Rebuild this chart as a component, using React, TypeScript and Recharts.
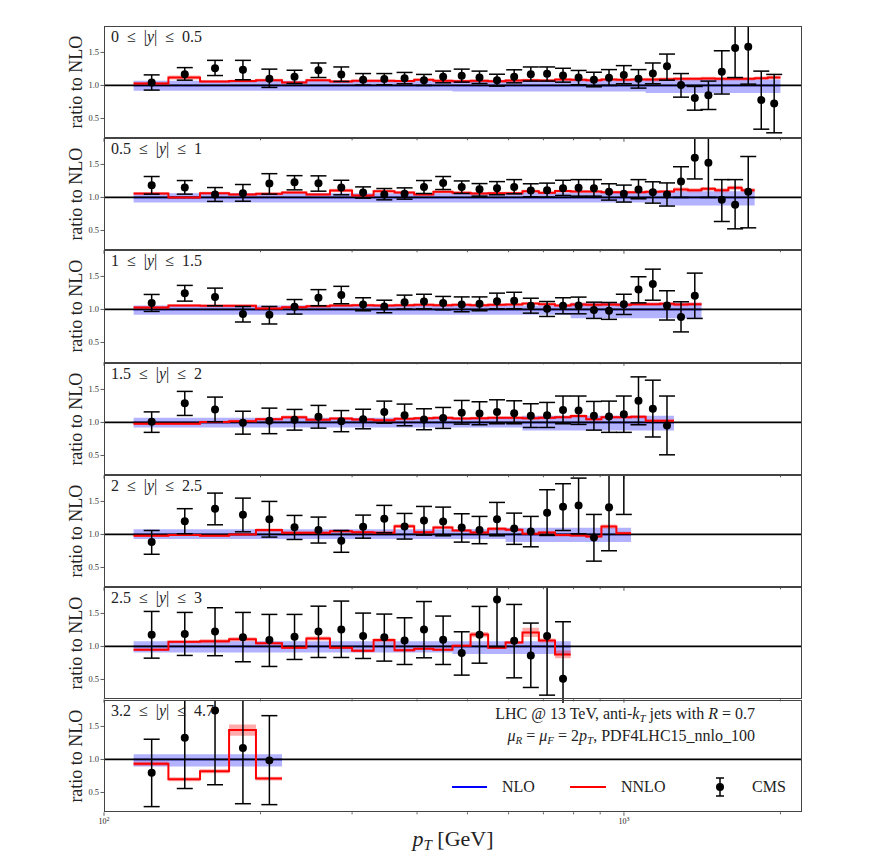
import { ComposedChart, Area, Line, Scatter, ErrorBar, XAxis, YAxis, ReferenceLine } from "recharts";

const FONT = "'Liberation Serif', 'Times New Roman', serif";
const TOP = 25.7;
const PH = 112.3;
const PLOT_L = 104;
const PLOT_R = 802;

// pT bin edges [GeV]
const edges = [114, 133, 153, 174, 196, 220, 245, 272, 300, 330, 362, 395, 430, 468, 507, 548, 592, 638, 686, 737, 790, 846, 905, 967, 1032, 1101, 1172, 1248, 1327, 1410, 1497, 1588, 1684, 1784, 1890, 2000];
const xTicks = [100, 200, 300, 400, 500, 600, 700, 800, 900, 1000, 2000];
const yTicks = [0.5, 1.0, 1.5];

const rapLower = ["0", "0.5", "1", "1.5", "2", "2.5", "3.2"];
const rapUpper = ["0.5", "1", "1.5", "2", "2.5", "3", "4.7"];

// 0 <= |y| <= 0.5
const cms1 = [1.045, 1.17, 1.26, 1.237, 1.10, 1.13, 1.23, 1.167, 1.086, 1.096, 1.11, 1.08, 1.13, 1.146, 1.12, 1.08, 1.13, 1.17, 1.177, 1.15, 1.12, 1.086, 1.116, 1.157, 1.10, 1.18, 1.29, 1.005, 0.81, 0.853, 1.207, 1.566, 1.586, 0.778, 0.727];
const cmsHi1 = [1.16, 1.27, 1.38, 1.38, 1.247, 1.23, 1.34, 1.28, 1.18, 1.18, 1.197, 1.167, 1.217, 1.247, 1.217, 1.17, 1.237, 1.28, 1.28, 1.26, 1.227, 1.2, 1.24, 1.3, 1.24, 1.34, 1.475, 1.18, 0.985, 1.066, 1.525, 2.3, 2.3, 1.217, 1.167];
const cmsLo1 = [0.93, 1.08, 1.15, 1.086, 0.97, 1.03, 1.12, 1.06, 1.005, 1.01, 1.025, 1.0, 1.04, 1.05, 1.03, 0.99, 1.04, 1.066, 1.066, 1.05, 1.01, 0.98, 1.0, 1.025, 0.96, 1.025, 1.08, 0.823, 0.626, 0.636, 0.87, 1.12, 1.02, 0.338, 0.283];
const nnlo1 = [1.03, 1.12, 1.06, 1.066, 1.08, 1.045, 1.08, 1.06, 1.07, 1.07, 1.066, 1.086, 1.07, 1.065, 1.07, 1.065, 1.075, 1.08, 1.075, 1.09, 1.085, 1.08, 1.09, 1.085, 1.09, 1.09, 1.095, 1.1, 1.1, 1.105, 1.1, 1.1, 1.1, 1.11, 1.12];
const nnloUnc1 = [0.02, 0.03, 0.02, 0.02, 0.02, 0.02, 0.02, 0.02, 0.02, 0.02, 0.02, 0.02, 0.02, 0.02, 0.02, 0.02, 0.02, 0.02, 0.02, 0.02, 0.02, 0.02, 0.02, 0.02, 0.02, 0.025, 0.025, 0.025, 0.025, 0.025, 0.025, 0.025, 0.025, 0.025, 0.025];
const nloLo1 = [0.92, 0.92, 0.92, 0.92, 0.92, 0.92, 0.92, 0.92, 0.92, 0.92, 0.92, 0.92, 0.92, 0.91, 0.91, 0.91, 0.91, 0.91, 0.91, 0.91, 0.91, 0.91, 0.91, 0.91, 0.91, 0.885, 0.885, 0.885, 0.885, 0.885, 0.885, 0.885, 0.885, 0.885, 0.885];
const nloHi1 = [1.07, 1.07, 1.07, 1.07, 1.07, 1.07, 1.07, 1.07, 1.07, 1.07, 1.07, 1.07, 1.07, 1.075, 1.075, 1.075, 1.075, 1.075, 1.075, 1.075, 1.075, 1.075, 1.075, 1.075, 1.075, 1.09, 1.09, 1.09, 1.09, 1.09, 1.09, 1.09, 1.09, 1.09, 1.09];

// 0.5 <= |y| <= 1
const cms2 = [1.186, 1.15, 1.044, 1.065, 1.21, 1.23, 1.216, 1.15, 1.075, 1.044, 1.055, 1.16, 1.22, 1.157, 1.126, 1.14, 1.157, 1.106, 1.11, 1.14, 1.146, 1.14, 1.086, 1.056, 1.12, 1.08, 1.045, 1.24, 1.6, 1.525, 0.965, 0.89, 1.086];
const cmsHi2 = [1.317, 1.256, 1.15, 1.196, 1.36, 1.33, 1.327, 1.26, 1.16, 1.135, 1.145, 1.256, 1.317, 1.25, 1.21, 1.24, 1.27, 1.207, 1.217, 1.26, 1.27, 1.27, 1.207, 1.187, 1.27, 1.237, 1.22, 1.465, 2.3, 2.3, 1.27, 1.27, 1.62];
const cmsLo2 = [1.05, 1.05, 0.94, 0.943, 1.05, 1.115, 1.095, 1.04, 0.99, 0.964, 0.974, 1.06, 1.12, 1.06, 1.02, 1.04, 1.055, 1.01, 1.005, 1.03, 1.02, 1.02, 0.96, 0.93, 0.98, 0.914, 0.87, 1.0, 1.28, 1.0, 0.636, 0.525, 0.54];
const nnlo2 = [1.06, 1.0, 1.065, 1.045, 1.055, 1.075, 1.045, 1.105, 1.03, 1.095, 1.075, 1.045, 1.085, 1.07, 1.06, 1.065, 1.065, 1.095, 1.07, 1.096, 1.09, 1.09, 1.08, 1.08, 1.08, 1.085, 1.09, 1.12, 1.11, 1.13, 1.11, 1.146, 1.11];
const nnloUnc2 = [0.02, 0.02, 0.02, 0.02, 0.02, 0.02, 0.02, 0.025, 0.02, 0.02, 0.02, 0.02, 0.02, 0.02, 0.02, 0.02, 0.02, 0.02, 0.02, 0.02, 0.02, 0.02, 0.02, 0.02, 0.02, 0.02, 0.02, 0.03, 0.03, 0.03, 0.03, 0.03, 0.03];
const nloLo2 = [0.922, 0.922, 0.922, 0.922, 0.922, 0.922, 0.922, 0.922, 0.922, 0.922, 0.922, 0.922, 0.922, 0.922, 0.922, 0.922, 0.922, 0.922, 0.922, 0.922, 0.922, 0.922, 0.922, 0.922, 0.922, 0.922, 0.88, 0.88, 0.88, 0.88, 0.88, 0.88, 0.88];
const nloHi2 = [1.065, 1.065, 1.065, 1.065, 1.065, 1.065, 1.065, 1.065, 1.065, 1.065, 1.065, 1.065, 1.065, 1.075, 1.075, 1.075, 1.075, 1.075, 1.075, 1.075, 1.075, 1.075, 1.075, 1.075, 1.075, 1.075, 1.095, 1.095, 1.095, 1.095, 1.095, 1.095, 1.095];

// 1 <= |y| <= 1.5
const cms3 = [1.096, 1.247, 1.19, 0.93, 0.92, 1.04, 1.177, 1.217, 1.076, 1.045, 1.11, 1.12, 1.096, 1.076, 1.086, 1.126, 1.13, 1.056, 1.01, 1.056, 1.06, 0.99, 0.98, 1.08, 1.303, 1.384, 1.06, 0.884, 1.207];
const cmsHi3 = [1.227, 1.364, 1.323, 1.045, 1.045, 1.15, 1.3, 1.35, 1.177, 1.14, 1.217, 1.23, 1.197, 1.19, 1.19, 1.247, 1.26, 1.17, 1.12, 1.177, 1.187, 1.11, 1.106, 1.23, 1.495, 1.61, 1.283, 1.116, 1.55];
const cmsLo3 = [0.97, 1.126, 1.056, 0.81, 0.78, 0.93, 1.056, 1.086, 0.98, 0.95, 1.005, 1.01, 0.995, 0.965, 0.98, 1.01, 1.01, 0.944, 0.894, 0.934, 0.934, 0.864, 0.85, 0.924, 1.1, 1.14, 0.84, 0.66, 0.864];
const nnlo3 = [1.03, 1.06, 1.055, 1.055, 1.015, 1.035, 1.05, 1.06, 1.065, 1.06, 1.065, 1.07, 1.065, 1.07, 1.065, 1.07, 1.075, 1.09, 1.08, 1.06, 1.075, 1.07, 1.075, 1.07, 1.08, 1.08, 1.085, 1.075, 1.08];
const nnloUnc3 = [0.02, 0.02, 0.02, 0.02, 0.02, 0.02, 0.02, 0.02, 0.02, 0.02, 0.02, 0.02, 0.02, 0.02, 0.02, 0.02, 0.02, 0.02, 0.02, 0.02, 0.025, 0.025, 0.025, 0.025, 0.025, 0.025, 0.025, 0.025, 0.025];
const nloLo3 = [0.92, 0.92, 0.92, 0.92, 0.92, 0.92, 0.92, 0.92, 0.92, 0.92, 0.92, 0.92, 0.92, 0.92, 0.92, 0.92, 0.92, 0.92, 0.92, 0.92, 0.865, 0.865, 0.865, 0.865, 0.865, 0.865, 0.865, 0.865, 0.865];
const nloHi3 = [1.06, 1.06, 1.06, 1.06, 1.06, 1.06, 1.06, 1.06, 1.06, 1.06, 1.06, 1.06, 1.06, 1.06, 1.06, 1.06, 1.06, 1.06, 1.06, 1.06, 1.1, 1.1, 1.1, 1.1, 1.1, 1.1, 1.1, 1.1, 1.1];

// 1.5 <= |y| <= 2
const cms4 = [1.01, 1.29, 1.197, 0.995, 1.025, 1.04, 1.086, 1.02, 1.05, 1.157, 1.11, 1.045, 1.066, 1.146, 1.136, 1.157, 1.14, 1.1, 1.11, 1.187, 1.18, 1.1, 1.09, 1.126, 1.328, 1.207, 0.955];
const cmsHi4 = [1.16, 1.47, 1.384, 1.17, 1.217, 1.197, 1.258, 1.18, 1.2, 1.323, 1.278, 1.207, 1.227, 1.333, 1.313, 1.343, 1.328, 1.283, 1.303, 1.4, 1.4, 1.318, 1.323, 1.4, 1.69, 1.64, 1.4];
const cmsLo4 = [0.85, 1.106, 1.01, 0.823, 0.83, 0.884, 0.914, 0.86, 0.904, 0.99, 0.95, 0.89, 0.91, 0.975, 0.965, 0.98, 0.98, 0.924, 0.924, 0.98, 0.97, 0.884, 0.85, 0.85, 0.965, 0.78, 0.51];
const nnlo4 = [0.98, 0.98, 1.005, 1.02, 1.05, 1.08, 1.04, 1.06, 1.045, 1.035, 1.055, 1.065, 1.07, 1.06, 1.065, 1.07, 1.07, 1.065, 1.07, 1.08, 1.096, 1.05, 1.08, 1.08, 1.085, 1.025, 1.025];
const nnloUnc4 = [0.015, 0.015, 0.02, 0.02, 0.02, 0.025, 0.02, 0.02, 0.02, 0.02, 0.02, 0.02, 0.02, 0.02, 0.02, 0.02, 0.02, 0.02, 0.02, 0.02, 0.025, 0.02, 0.02, 0.02, 0.025, 0.02, 0.02];
const nloLo4 = [0.924, 0.924, 0.924, 0.924, 0.924, 0.924, 0.924, 0.924, 0.924, 0.924, 0.924, 0.924, 0.924, 0.924, 0.924, 0.924, 0.924, 0.88, 0.88, 0.88, 0.88, 0.88, 0.88, 0.88, 0.88, 0.88, 0.88];
const nloHi4 = [1.07, 1.07, 1.07, 1.07, 1.07, 1.07, 1.07, 1.07, 1.07, 1.07, 1.07, 1.07, 1.07, 1.07, 1.07, 1.07, 1.07, 1.1, 1.1, 1.1, 1.1, 1.1, 1.1, 1.1, 1.1, 1.1, 1.1];

// 2 <= |y| <= 2.5
const cms5 = [0.884, 1.2, 1.39, 1.3, 1.232, 1.11, 1.066, 0.904, 1.116, 1.237, 1.12, 1.212, 1.197, 1.106, 1.066, 1.232, 1.09, 1.045, 1.328, 1.42, 1.44, 0.955, 1.41, 2.05];
const cmsHi5 = [1.06, 1.39, 1.626, 1.55, 1.5, 1.288, 1.263, 1.06, 1.293, 1.44, 1.318, 1.424, 1.414, 1.313, 1.273, 1.485, 1.323, 1.273, 1.677, 1.768, 1.853, 1.303, 2.3, 2.5];
const cmsLo5 = [0.70, 1.01, 1.146, 1.04, 0.96, 0.924, 0.87, 0.73, 0.944, 1.025, 0.93, 0.99, 0.98, 0.884, 0.86, 0.98, 0.85, 0.813, 0.985, 1.06, 1.01, 0.596, 0.753, 1.303];
const nnlo5 = [0.98, 0.99, 0.98, 1.0, 1.066, 1.025, 1.025, 1.05, 1.035, 1.025, 1.126, 1.035, 1.106, 1.06, 1.03, 1.086, 1.07, 1.01, 1.03, 0.99, 0.985, 0.97, 1.12, 1.02];
const nnloUnc5 = [0.015, 0.015, 0.015, 0.015, 0.025, 0.02, 0.02, 0.02, 0.02, 0.02, 0.03, 0.02, 0.025, 0.02, 0.02, 0.025, 0.02, 0.02, 0.02, 0.02, 0.02, 0.02, 0.03, 0.02];
const nloLo5 = [0.93, 0.93, 0.93, 0.93, 0.93, 0.93, 0.93, 0.93, 0.93, 0.93, 0.93, 0.93, 0.93, 0.93, 0.93, 0.93, 0.885, 0.885, 0.885, 0.885, 0.885, 0.885, 0.885, 0.885];
const nloHi5 = [1.08, 1.08, 1.08, 1.08, 1.08, 1.08, 1.08, 1.08, 1.08, 1.08, 1.08, 1.08, 1.08, 1.08, 1.08, 1.08, 1.1, 1.1, 1.1, 1.1, 1.1, 1.1, 1.1, 1.1];

// 2.5 <= |y| <= 3
const cms6 = [1.177, 1.19, 1.227, 1.14, 1.096, 1.146, 1.227, 1.258, 1.16, 1.14, 1.09, 1.258, 1.1, 0.9, 1.177, 1.712, 1.086, 0.864, 1.16, 0.51];
const cmsHi6 = [1.53, 1.515, 1.586, 1.515, 1.485, 1.485, 1.61, 1.687, 1.505, 1.49, 1.434, 1.68, 1.46, 1.222, 1.606, 2.3, 1.636, 1.354, 2.3, 1.374];
const cmsLo6 = [0.823, 0.864, 0.86, 0.768, 0.697, 0.803, 0.833, 0.833, 0.818, 0.778, 0.727, 0.828, 0.727, 0.566, 0.747, 0.995, 0.525, 0.379, 0.263, 0.1];
const nnlo6 = [0.95, 1.07, 1.08, 1.11, 1.05, 0.98, 1.12, 0.98, 0.934, 1.096, 0.944, 0.965, 0.95, 1.01, 1.18, 0.98, 1.06, 1.212, 1.09, 0.88];
const nnloUnc6 = [0.02, 0.02, 0.03, 0.03, 0.02, 0.02, 0.03, 0.02, 0.02, 0.03, 0.02, 0.02, 0.02, 0.02, 0.04, 0.02, 0.02, 0.07, 0.03, 0.06];
const nloLo6 = [0.91, 0.91, 0.91, 0.91, 0.91, 0.91, 0.91, 0.91, 0.91, 0.91, 0.91, 0.91, 0.91, 0.885, 0.885, 0.885, 0.885, 0.885, 0.885, 0.885];
const nloHi6 = [1.08, 1.08, 1.08, 1.08, 1.08, 1.08, 1.08, 1.08, 1.08, 1.08, 1.08, 1.08, 1.08, 1.08, 1.08, 1.08, 1.08, 1.08, 1.08, 1.08];

// 3.2 <= |y| <= 4.7
const cms7 = [0.80, 1.33, 1.74, 1.173, 0.985];
const cmsHi7 = [1.306, 2.3, 2.3, 1.95, 1.663];
const cmsLo7 = [0.286, 0.56, 0.617, 0.33, 0.316];
const nnlo7 = [0.934, 0.70, 0.82, 1.444, 0.71];
const nnloUnc7 = [0.03, 0.03, 0.03, 0.085, 0.03];
const nloLo7 = [0.893, 0.893, 0.893, 0.893, 0.893];
const nloHi7 = [1.077, 1.077, 1.077, 1.077, 1.077];

const panels = [
  { cms: cms1, hi: cmsHi1, lo: cmsLo1, nnlo: nnlo1, unc: nnloUnc1, nloLo: nloLo1, nloHi: nloHi1 },
  { cms: cms2, hi: cmsHi2, lo: cmsLo2, nnlo: nnlo2, unc: nnloUnc2, nloLo: nloLo2, nloHi: nloHi2 },
  { cms: cms3, hi: cmsHi3, lo: cmsLo3, nnlo: nnlo3, unc: nnloUnc3, nloLo: nloLo3, nloHi: nloHi3 },
  { cms: cms4, hi: cmsHi4, lo: cmsLo4, nnlo: nnlo4, unc: nnloUnc4, nloLo: nloLo4, nloHi: nloHi4 },
  { cms: cms5, hi: cmsHi5, lo: cmsLo5, nnlo: nnlo5, unc: nnloUnc5, nloLo: nloLo5, nloHi: nloHi5 },
  { cms: cms6, hi: cmsHi6, lo: cmsLo6, nnlo: nnlo6, unc: nnloUnc6, nloLo: nloLo6, nloHi: nloHi6 },
  { cms: cms7, hi: cmsHi7, lo: cmsLo7, nnlo: nnlo7, unc: nnloUnc7, nloLo: nloLo7, nloHi: nloHi7 },
];

const SP = "\u2002";

const Dot = (props: any) => {
  const { cx, cy } = props;
  if (cx == null || cy == null) return null;
  return <circle cx={cx} cy={cy} r={4} fill="#000" />;
};

const makeXTick = (withLabel: boolean) => (props: any) => {
  const { x, y, payload } = props;
  const v = payload.value;
  const major = v === 100 || v === 1000;
  return (
    <g>
      <line x1={x} x2={x} y1={y} y2={y + (major ? 3.5 : 2)} stroke="#333" strokeWidth={0.8} />
      {withLabel && major && (
        <text x={x} y={y + 12} textAnchor="middle" fontSize={8} fontFamily={FONT} fill="#222">
          10<tspan dy={-3} fontSize={6}>{v === 100 ? "2" : "3"}</tspan>
        </text>
      )}
    </g>
  );
};

function Panel({ idx }: { idx: number }) {
  const p = panels[idx];
  const last = idx === panels.length - 1;
  const n = p.cms.length;
  const rows = edges.slice(0, n + 1).map((x, k) => {
    const j = Math.min(k, n - 1);
    return {
      x,
      nlo: 1,
      nloBand: [p.nloLo[j], p.nloHi[j]],
      nnlo: p.nnlo[j],
      nnloBand: [p.nnlo[j] - p.unc[j], p.nnlo[j] + p.unc[j]],
    };
  });
  const pts = p.cms.map((v, k) => ({
    x: (edges[k] + edges[k + 1]) / 2,
    y: v,
    err: [v - p.lo[k], p.hi[k] - v],
  }));
  const axisH = last ? 16 : 4;
  return (
    <div style={{ position: "absolute", left: 0, top: TOP + idx * PH }}>
      <ComposedChart width={872} height={PH + axisH} data={rows} margin={{ top: 0, right: 872 - PLOT_R, bottom: 0, left: 0 }}>
        <XAxis
          dataKey="x"
          type="number"
          scale="log"
          domain={[100, 2200]}
          allowDataOverflow
          ticks={xTicks}
          interval={0}
          tick={makeXTick(last)}
          tickSize={0}
          tickMargin={0}
          tickLine={false}
          axisLine={false}
          height={axisH}
        />
        <YAxis
          type="number"
          domain={[0.2, 1.9]}
          allowDataOverflow
          ticks={yTicks}
          tickFormatter={(v: number) => v.toFixed(1)}
          tick={{ fontSize: 8.5, fill: "#333", fontFamily: FONT }}
          tickSize={3.5}
          tickMargin={1.5}
          tickLine={{ stroke: "#333", strokeWidth: 0.8 }}
          axisLine={false}
          width={PLOT_L}
          label={{
            value: "ratio to NLO",
            angle: -90,
            position: "insideLeft",
            offset: 76,
            style: { textAnchor: "middle", fontSize: 18, fontFamily: FONT, fill: "#222" },
          }}
        />
        <Area type="stepAfter" dataKey="nloBand" stroke="none" fill="#0000ff" fillOpacity={0.3} isAnimationActive={false} />
        <Line type="stepAfter" dataKey="nlo" stroke="#0000ff" strokeWidth={1.5} dot={false} isAnimationActive={false} />
        <ReferenceLine y={1} stroke="#000" strokeWidth={1.8} />
        <Area type="stepAfter" dataKey="nnloBand" stroke="none" fill="#ff0000" fillOpacity={0.33} isAnimationActive={false} />
        <Line type="stepAfter" dataKey="nnlo" stroke="#ff0000" strokeWidth={2} dot={false} isAnimationActive={false} />
        <Scatter data={pts} dataKey="y" fill="#000" shape={Dot} isAnimationActive={false}>
          <ErrorBar dataKey="err" direction="y" width={8} stroke="#000" strokeWidth={1.5} isAnimationActive={false} />
        </Scatter>
      </ComposedChart>
      <div
        style={{
          position: "absolute",
          left: PLOT_L,
          top: 0,
          width: PLOT_R - PLOT_L,
          height: PH,
          border: "1px solid #444",
          boxSizing: "border-box",
          pointerEvents: "none",
        }}
      />
    </div>
  );
}

export default function App() {
  const legendY = 787;
  return (
    <div style={{ position: "absolute", left: 0, top: 0, width: 872, height: 864, background: "#fff" }}>
      {panels.map((_, i) => (
        <Panel key={i} idx={i} />
      ))}
      <svg width={872} height={864} style={{ position: "absolute", left: 0, top: 0, pointerEvents: "none" }} fontFamily={FONT}>
        {rapLower.map((l, i) => (
          <text key={i} x={111} y={TOP + i * PH + 16} fontSize={16} fill="#222">
            {l + SP + "≤" + SP + "|"}
            <tspan fontStyle="italic">y</tspan>
            {"|" + SP + "≤" + SP + rapUpper[i]}
          </text>
        ))}
        <text x={755} y={719} fontSize={16} fill="#222" textAnchor="end">
          LHC @ 13 TeV, anti-<tspan fontStyle="italic">k</tspan>
          <tspan dy={3} fontSize={11} fontStyle="italic">T</tspan>
          <tspan dy={-3}> jets with </tspan>
          <tspan fontStyle="italic">R</tspan> = 0.7
        </text>
        <text x={755} y={741} fontSize={16} fill="#222" textAnchor="end">
          <tspan fontStyle="italic">μ</tspan>
          <tspan dy={3} fontSize={11} fontStyle="italic">R</tspan>
          <tspan dy={-3}> = </tspan>
          <tspan fontStyle="italic">μ</tspan>
          <tspan dy={3} fontSize={11} fontStyle="italic">F</tspan>
          <tspan dy={-3}> = 2</tspan>
          <tspan fontStyle="italic">p</tspan>
          <tspan dy={3} fontSize={11} fontStyle="italic">T</tspan>
          <tspan dy={-3}>, PDF4LHC15_nnlo_100</tspan>
        </text>
        <line x1={452} x2={487} y1={legendY} y2={legendY} stroke="#0000ff" strokeWidth={2} />
        <text x={502} y={legendY + 5} fontSize={16} fill="#222">NLO</text>
        <line x1={570} x2={606} y1={legendY} y2={legendY} stroke="#ff0000" strokeWidth={2} />
        <text x={621} y={legendY + 5} fontSize={16} fill="#222">NNLO</text>
        <line x1={720} x2={720} y1={legendY - 9} y2={legendY + 9} stroke="#000" strokeWidth={1.5} />
        <line x1={716} x2={724} y1={legendY - 9} y2={legendY - 9} stroke="#000" strokeWidth={1.5} />
        <line x1={716} x2={724} y1={legendY + 9} y2={legendY + 9} stroke="#000" strokeWidth={1.5} />
        <circle cx={720} cy={legendY} r={4} fill="#000" />
        <text x={752} y={legendY + 5} fontSize={16} fill="#222">CMS</text>
        <text x={453} y={846} fontSize={22} fill="#222" textAnchor="middle">
          <tspan fontStyle="italic">p</tspan>
          <tspan dy={4} fontSize={15} fontStyle="italic">T</tspan>
          <tspan dy={-4}> [GeV]</tspan>
        </text>
      </svg>
    </div>
  );
}
